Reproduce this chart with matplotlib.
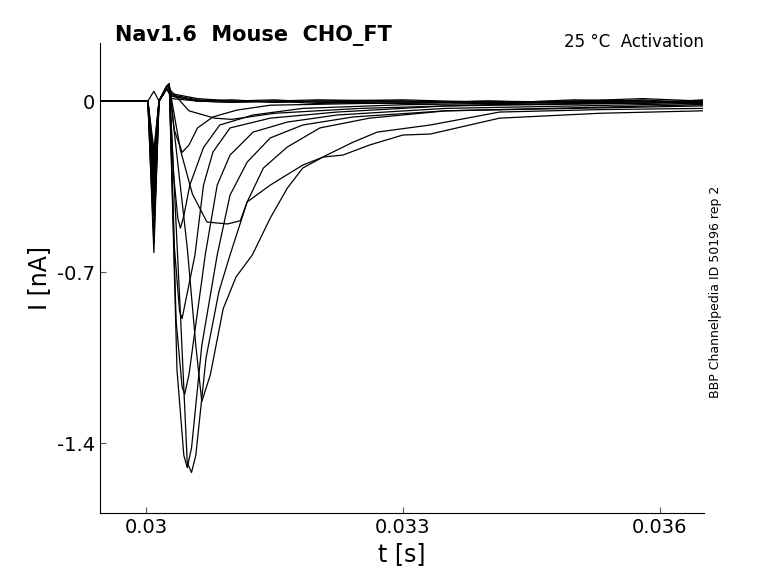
import numpy as np
import matplotlib
matplotlib.use('Agg')
from matplotlib import pyplot as plt

# times in ms, currents in nA
base_t = [29.45, 30.0, 30.02, 30.09, 30.15, 30.24]

flat_dips = [-0.62, -0.58, -0.55, -0.47, 0.04]
flat_t = [30.3, 30.6, 31.0, 31.5, 32.0, 33.0, 34.0, 35.0, 35.8, 36.5]
flat_i = [[0.03, 0.01, 0.0, -0.005, 0.0, -0.005, 0.0, -0.01, 0.005, -0.01],
          [0.02, 0.0, -0.005, 0.0, -0.01, 0.0, -0.01, 0.0, 0.01, 0.0],
          [0.025, 0.005, 0.0, 0.005, -0.005, -0.01, 0.0, -0.005, 0.0, -0.015],
          [0.02, 0.0, 0.005, -0.005, 0.0, 0.005, -0.005, 0.0, -0.01, 0.005],
          [0.01, 0.0, -0.005, 0.0, 0.005, 0.0, -0.01, 0.005, 0.0, -0.005]]

trace_dips = [-0.42, -0.38, -0.35, -0.32, -0.3, -0.27, -0.25, -0.22, -0.2]
trace_t = [
    [30.27, 30.5, 30.8, 31.0, 31.5, 32.5, 34.0, 36.5],
    [30.27, 30.33, 30.42, 30.5, 30.6, 30.78, 31.06, 31.45, 32.5, 36.5],
    [30.27, 30.32, 30.37, 30.40, 30.44, 30.51, 30.67, 30.86, 31.25, 31.83, 33.0, 36.5],
    [30.27, 30.33, 30.39, 30.42, 30.46, 30.57, 30.67, 30.78, 30.98, 31.45, 32.23, 33.5, 36.5],
    [30.27, 30.35, 30.42, 30.45, 30.5, 30.69, 30.83, 30.98, 31.25, 31.65, 32.23, 33.5, 36.5],
    [30.27, 30.36, 30.44, 30.48, 30.53, 30.65, 30.83, 30.98, 31.18, 31.45, 31.83, 32.42, 33.5, 36.5],
    [30.27, 30.4, 30.48, 30.53, 30.58, 30.7, 30.85, 30.98, 31.18, 31.37, 31.65, 32.03, 32.61, 33.5, 36.5],
    [30.27, 30.32, 30.48, 30.58, 30.65, 30.75, 30.9, 31.05, 31.24, 31.45, 31.65, 31.83, 32.11, 32.42,
     32.7, 33.32, 34.13, 35.3, 36.5],
    [30.27, 30.4, 30.54, 30.71, 30.95, 31.1, 31.18, 31.45, 31.83, 32.07, 32.3, 32.61, 33.0, 33.32,
     34.13, 35.3, 36.5],
]
trace_i = [
    [0.05, -0.04, -0.07, -0.075, -0.05, -0.03, -0.015, -0.005],
    [0.06, -0.12, -0.21, -0.18, -0.11, -0.065, -0.037, -0.017, -0.01, 0.0],
    [0.07, -0.3, -0.48, -0.52, -0.47, -0.344, -0.19, -0.098, -0.057, -0.03, -0.015, 0.0],
    [0.07, -0.6, -0.86, -0.89, -0.82, -0.63, -0.344, -0.209, -0.11, -0.07, -0.045, -0.02, -0.005],
    [0.07, -0.9, -1.17, -1.20, -1.12, -0.63, -0.344, -0.221, -0.127, -0.086, -0.057, -0.03, -0.01],
    [0.07, -1.1, -1.45, -1.50, -1.42, -1.0, -0.63, -0.385, -0.25, -0.151, -0.098, -0.065, -0.04, -0.015],
    [0.07, -0.87, -1.48, -1.52, -1.45, -1.05, -0.78, -0.63, -0.413, -0.274, -0.188, -0.11, -0.07,
     -0.04, -0.02],
    [0.07, -0.1, -0.6, -1.0, -1.23, -1.12, -0.85, -0.72, -0.63, -0.479, -0.356, -0.274, -0.221,
     -0.168, -0.127, -0.098, -0.045, -0.035, -0.03],
    [0.06, -0.2, -0.38, -0.495, -0.503, -0.49, -0.413, -0.344, -0.262, -0.229, -0.221, -0.18, -0.139,
     -0.135, -0.07, -0.05, -0.04],
]

fig = plt.figure(figsize=(7.78, 5.83), dpi=100)
ax = fig.add_axes([0.1285, 0.12, 0.777, 0.806])

for dip, ii in zip(flat_dips, flat_i):
    t = np.array(base_t + flat_t) / 1000
    y = [0, 0, 0, dip, 0.0, 0.05] + ii
    ax.plot(t, y, color='black', lw=0.9)

for dip, tt, ii in zip(trace_dips, trace_t, trace_i):
    t = np.array(base_t + tt) / 1000
    y = [0, 0, 0, dip, 0.0, 0.06] + ii
    ax.plot(t, y, color='black', lw=0.9)

ax.set_xlim(0.02946, 0.036525)
ax.set_ylim(-1.686, 0.237)
ax.set_xticks([0.03, 0.033, 0.036])
ax.set_xticklabels(['0.03', '0.033', '0.036'])
ax.set_yticks([0, -0.7, -1.4])
ax.set_yticklabels(['0', '-0.7', '-1.4'])
ax.tick_params(labelsize=14, direction='in', length=4, color='#555555')
for s in ['top', 'right']:
    ax.spines[s].set_visible(False)
ax.set_xlabel('t [s]', fontsize=17)
ax.set_ylabel('I [nA]', fontsize=17)

fig.text(0.148, 0.93, 'Nav1.6  Mouse  CHO_FT', fontsize=15, fontweight='bold')
fig.text(0.905, 0.92, '25 °C  Activation', fontsize=12, ha='right')
fig.text(0.92, 0.5, 'BBP Channelpedia ID 50196 rep 2', fontsize=9, rotation=90,
         va='center', ha='center')

fig.savefig('out.png', dpi=100)
